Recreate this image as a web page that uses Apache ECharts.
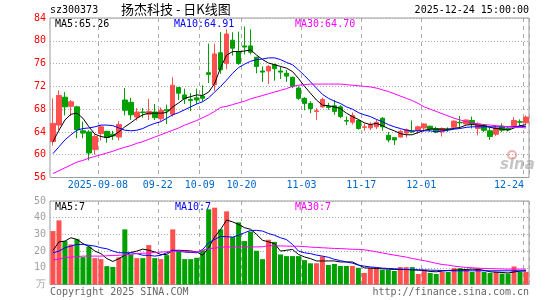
<!DOCTYPE html>
<html>
<head>
<meta charset="utf-8">
<script src="https://cdn.jsdelivr.net/npm/echarts/dist/echarts.min.js"></script>
<style>
html,body{margin:0;padding:0;background:#fff;}
#chart{width:545px;height:300px;}
</style>
</head>
<body>
<div id="chart"></div>
<script>
// ---------- data ----------
const categories = [
'2025-08-27','2025-08-28','2025-08-29','2025-09-01','2025-09-02','2025-09-03','2025-09-04','2025-09-05',
'2025-09-08','2025-09-09','2025-09-10','2025-09-11','2025-09-12','2025-09-15','2025-09-16','2025-09-17',
'2025-09-18','2025-09-19','2025-09-22','2025-09-23','2025-09-24','2025-09-25','2025-09-26','2025-09-29',
'2025-09-30','2025-10-09','2025-10-10','2025-10-13','2025-10-14','2025-10-15','2025-10-16','2025-10-17',
'2025-10-20','2025-10-21','2025-10-22','2025-10-23','2025-10-24','2025-10-27','2025-10-28','2025-10-29',
'2025-10-30','2025-10-31','2025-11-03','2025-11-04','2025-11-05','2025-11-06','2025-11-07','2025-11-10',
'2025-11-11','2025-11-12','2025-11-13','2025-11-14','2025-11-17','2025-11-18','2025-11-19','2025-11-20',
'2025-11-21','2025-11-24','2025-11-25','2025-11-26','2025-11-27','2025-11-28','2025-12-01','2025-12-02',
'2025-12-03','2025-12-04','2025-12-05','2025-12-08','2025-12-09','2025-12-10','2025-12-11','2025-12-12',
'2025-12-15','2025-12-16','2025-12-17','2025-12-18','2025-12-19','2025-12-22','2025-12-23','2025-12-24'];

const labelIndex = [8, 18, 25, 32, 42, 52, 62, 79];

const openP = [62.3,65.2,70.1,68.5,68.4,64.2,64.0,60.9,63.7,64.1,63.6,63.1,69.6,69.2,66.6,67.5,67.1,67.5,66.3,67.9,
67.1,71.8,70.5,69.7,70.0,70.3,74.4,72.3,77.9,76.0,80.1,78.1,79.1,79.1,77.1,74.7,74.7,75.8,74.7,74.3,
73.6,71.7,69.9,69.0,67.6,68.4,68.5,68.6,68.4,66.0,65.7,66.0,64.8,64.7,64.9,66.4,63.4,63.0,63.1,63.8,
64.1,64.3,64.7,65.0,64.6,64.0,64.5,64.8,65.7,65.4,66.0,64.6,65.2,64.2,63.6,65.0,64.6,65.0,65.8,65.6];
const closeP = [65.5,70.4,68.4,69.3,64.4,63.8,60.3,63.2,64.9,63.0,63.3,65.3,67.8,67.0,67.5,67.4,67.6,66.5,67.8,67.7,
72.2,70.8,69.8,69.5,69.6,69.9,74.1,77.7,74.9,81.2,78.7,76.0,78.9,78.0,75.5,74.5,75.5,75.1,74.5,73.8,
72.0,69.9,69.0,68.1,67.7,69.7,68.3,67.6,66.7,65.9,66.9,64.6,64.9,65.3,65.7,64.9,62.6,62.6,64.1,64.4,
64.0,64.9,65.4,64.5,64.0,64.6,64.4,65.9,65.6,66.1,65.4,65.4,64.3,63.2,64.7,64.3,64.4,66.0,65.7,66.6];
const lowP = [61.6,64.3,66.9,66.8,62.9,62.9,59.0,60.0,62.5,62.1,62.6,62.5,66.9,66.1,66.0,66.5,66.1,66.1,65.9,65.4,
66.7,69.6,68.9,67.7,68.9,69.3,72.6,71.2,74.2,75.0,77.4,75.8,77.6,77.6,74.3,72.8,72.4,73.0,73.3,72.8,
71.7,69.6,67.8,67.3,66.1,68.2,67.9,67.0,66.4,65.2,65.3,64.4,64.2,64.3,64.5,64.2,62.2,61.7,63.0,63.0,
63.8,63.7,64.0,64.0,63.8,63.2,64.0,64.6,64.9,65.3,64.6,63.4,64.0,62.6,63.3,64.0,64.1,64.8,65.1,65.3];
const highP = [69.9,71.3,71.0,69.6,68.6,65.8,64.3,63.6,65.2,64.2,64.2,65.9,71.7,70.0,68.2,68.2,69.8,68.9,68.3,68.8,
73.6,71.9,71.6,70.8,71.6,72.2,79.5,79.5,81.5,82.0,81.5,81.6,82.5,82.0,77.2,75.5,75.7,76.0,75.5,74.9,
73.7,72.0,70.1,69.4,68.2,70.0,69.1,69.6,68.7,66.7,67.4,66.2,65.5,65.7,66.2,66.6,64.0,63.0,64.4,64.6,
66.0,65.1,65.5,65.1,64.9,64.8,64.8,66.0,66.8,66.2,66.7,65.7,65.4,64.8,65.1,65.5,65.0,66.6,66.2,66.9];

const ma5 = [62.3,64.3,66.1,67.1,67.3,66.4,64.9,63.6,63.2,63.0,63.3,64.0,64.9,65.6,66.4,67.0,67.3,67.3,67.3,67.4,
68.4,69.1,69.9,70.2,70.5,70.4,71.0,72.5,75.3,77.5,78.1,78.1,78.2,78.4,77.5,76.7,76.1,75.8,75.5,75.2,
74.6,73.4,72.0,70.8,69.6,68.7,68.6,68.4,68.1,67.3,66.7,66.2,65.6,65.3,65.5,65.1,64.6,64.2,63.7,63.5,
63.5,63.9,64.3,64.5,64.5,64.5,64.5,64.6,64.8,65.2,65.3,65.2,65.1,64.8,64.6,64.5,64.3,64.7,65.1,65.26];
const ma10 = [60.2,61.4,62.6,63.5,64.3,64.6,64.7,64.9,65.2,65.2,65.1,64.7,64.3,64.2,64.3,64.6,65.1,65.5,65.8,66.4,
67.0,67.4,67.9,68.4,68.9,69.3,70.0,71.0,72.0,73.1,74.3,75.3,75.9,76.4,76.7,76.8,77.0,77.0,76.7,76.2,
75.8,74.9,73.9,72.8,71.7,70.6,69.9,69.4,69.0,68.4,68.0,67.4,67.0,66.7,66.2,65.8,65.3,64.9,64.6,64.3,
64.2,64.2,64.2,64.2,64.0,64.2,64.3,64.5,64.6,64.8,64.9,64.9,64.9,64.9,64.9,64.9,64.9,64.9,65.0,64.91];
const ma30 = [56.7,57.2,57.7,58.2,58.7,59.0,59.4,59.7,60.0,60.3,60.6,61.0,61.3,61.6,62.0,62.3,62.7,63.1,63.5,63.9,
64.3,64.7,65.2,65.6,66.0,66.5,67.0,67.6,68.3,68.5,68.8,69.1,69.4,69.8,70.1,70.4,70.7,71.0,71.3,71.6,
72.0,72.2,72.3,72.4,72.4,72.4,72.4,72.4,72.4,72.3,72.2,72.1,72.0,71.9,71.7,71.4,71.1,70.7,70.3,69.9,
69.5,69.0,68.4,68.0,67.6,67.2,66.8,66.4,66.1,65.8,65.6,65.4,65.3,65.2,65.1,65.0,64.9,64.8,64.8,64.7];

const volume = [32.0,38.4,26.0,24.0,27.2,16.4,22.7,15.8,15.2,11.0,10.5,16.2,33.0,18.0,15.8,15.8,23.6,15.8,15.2,17.6,
33.0,20.0,15.2,15.2,16.0,20.5,45.0,46.0,33.0,43.8,28.4,37.2,26.0,31.7,20.2,15.2,26.8,25.5,18.0,17.0,
17.0,17.0,14.6,12.7,12.7,16.8,11.7,12.3,11.1,11.1,11.1,10.0,6.9,10.0,10.0,8.8,8.8,8.1,10.4,10.4,
10.4,6.3,8.8,6.9,6.3,7.5,7.5,9.8,9.8,8.8,7.5,9.8,7.5,6.9,7.6,6.5,6.5,10.8,7.5,7.6];
const volMa5 = [20.4,25.5,26.0,28.0,27.0,24.5,22.8,20.0,18.5,15.5,13.8,15.5,17.5,19.2,20.0,21.2,20.5,19.5,18.0,18.0,
20.4,20.5,20.3,20.1,19.5,17.5,22.0,28.5,33.0,38.6,37.5,36.0,34.0,33.1,30.0,26.5,25.5,24.5,20.0,20.5,
21.0,18.0,16.5,15.5,14.1,14.1,14.1,14.1,13.5,13.5,13.5,11.8,10.0,9.8,9.6,9.4,9.2,9.0,9.0,9.0,
8.8,8.6,8.4,7.8,7.6,8.0,8.4,8.6,8.8,9.0,9.2,9.0,8.5,7.6,7.4,7.2,6.9,7.5,8.0,8.2];
const volMa10 = [19.0,20.0,22.0,23.0,24.0,24.0,23.5,23.0,22.0,21.4,20.0,19.0,19.0,19.0,18.5,17.5,17.5,17.0,17.5,19.0,
20.6,20.0,19.4,19.2,19.0,21.0,25.0,27.0,28.8,28.6,28.4,29.5,31.0,32.4,32.4,32.0,30.5,29.5,28.0,26.9,
24.0,20.0,19.0,18.5,17.6,17.0,16.3,15.1,14.3,13.5,12.8,11.6,11.0,10.5,10.2,9.8,9.6,9.4,9.2,9.0,
8.9,8.8,8.7,8.6,8.5,8.4,8.3,8.2,8.2,8.2,8.2,8.2,8.2,8.2,8.2,8.2,8.2,8.2,8.2,8.2];
const volMa30 = [14.7,15.2,16.1,16.4,16.7,17.0,17.0,17.0,17.0,17.2,17.4,17.5,17.8,18.1,18.5,18.7,18.9,19.2,19.4,19.6,
19.8,20.0,19.8,19.6,19.4,20.5,21.4,21.8,22.2,22.5,22.5,22.5,22.5,22.5,22.5,22.6,23.3,23.2,23.1,23.0,
22.9,22.9,22.7,22.4,22.2,22.0,21.8,21.6,21.5,21.3,21.1,21.0,20.8,20.2,19.6,18.9,18.2,17.6,17.0,16.4,
15.6,14.9,14.3,13.5,12.7,12.0,11.6,11.0,10.6,10.2,10.0,9.8,9.6,9.5,9.4,9.3,9.2,9.2,9.2,9.2];

// ---------- chart ----------
const UP = '#ff5050', DOWN = '#00a000';
const MONO = '"DejaVu Sans Mono", "Liberation Mono", monospace';
const ohlc = categories.map((_, i) => [openP[i], closeP[i], lowP[i], highP[i]]);
const showIdx = (i) => labelIndex.indexOf(i) >= 0;
const G_LEFT = 50, G_RIGHT = 16;

const chart = echarts.init(document.getElementById('chart'), null, {renderer: 'canvas'});
const dashed = {show: true, interval: showIdx, lineStyle: {color: '#aaaaaa', type: [4, 4], width: 1}};
const dotted = {show: true, lineStyle: {color: '#aaaaaa', type: [1, 2], width: 1}};
const lineS = (name, data, color, xi, yi) => ({
  name, type: 'line', data, xAxisIndex: xi, yAxisIndex: yi, symbol: 'none', smooth: false,
  lineStyle: {color, width: 1}, silent: true, z: 5
});

chart.setOption({
  animation: false,
  backgroundColor: '#ffffff',
  grid: [
    {left: G_LEFT, right: G_RIGHT, top: 18, height: 159.5, show: true, borderColor: '#999999', borderWidth: 1, backgroundColor: 'transparent'},
    {left: G_LEFT, right: G_RIGHT, top: 201, height: 83.5, show: true, borderColor: '#999999', borderWidth: 1, backgroundColor: 'transparent'}
  ],
  xAxis: [
    {type: 'category', gridIndex: 0, data: categories, boundaryGap: true,
     axisLine: {show: false}, axisTick: {show: false},
     axisLabel: {show: true, interval: showIdx, margin: 3, color: '#0066cc', fontFamily: MONO, fontSize: 10,
       padding: [0, 6, 0, 0],
       formatter: (v, i) => i === labelIndex[0] ? v : (i === labelIndex[labelIndex.length - 1] ? '{r|' + v.slice(5) + '}' : v.slice(5)),
       rich: {r: {color: '#0066cc', fontFamily: MONO, fontSize: 10, padding: [0, 28, 0, 0]}}},
     splitLine: dashed},
    {type: 'category', gridIndex: 1, data: categories, boundaryGap: true,
     axisLine: {show: false}, axisTick: {show: false}, axisLabel: {show: false},
     splitLine: dashed}
  ],
  yAxis: [
    {type: 'value', gridIndex: 0, min: 56, max: 84, interval: 4, position: 'left',
     axisLine: {show: false}, axisTick: {show: false},
     axisLabel: {color: '#ff0000', fontFamily: MONO, fontSize: 10, margin: 4},
     splitLine: dotted},
    {type: 'value', gridIndex: 1, min: 0, max: 50, interval: 10, position: 'left',
     axisLine: {show: false}, axisTick: {show: false},
     axisLabel: {color: '#a0a0a0', fontFamily: MONO, fontSize: 10, margin: 4,
       formatter: (v) => v === 0 ? '万' : String(v)},
     splitLine: dotted}
  ],
  series: [
    {name: 'K', type: 'candlestick', xAxisIndex: 0, yAxisIndex: 0, data: ohlc, barWidth: 5,
     itemStyle: {color: UP, color0: DOWN, borderColor: UP, borderColor0: DOWN, borderWidth: 1}, z: 3},
    lineS('MA5', ma5, '#000000', 0, 0),
    lineS('MA10', ma10, '#0000ff', 0, 0),
    lineS('MA30', ma30, '#ff00ff', 0, 0),
    {name: 'VOL', type: 'bar', xAxisIndex: 1, yAxisIndex: 1, data: volume, barWidth: 5,
     itemStyle: {color: (p) => closeP[p.dataIndex] >= openP[p.dataIndex] ? UP : DOWN}, z: 3},
    lineS('VMA5', volMa5, '#000000', 1, 1),
    lineS('VMA10', volMa10, '#0000ff', 1, 1),
    lineS('VMA30', volMa30, '#ff00ff', 1, 1)
  ],
  graphic: [
    {type: 'text', left: 50, top: 5, style: {text: 'sz300373', fill: '#000', font: '10px ' + MONO}},
    {type: 'text', left: 121, top: 3, style: {text: '扬杰科技 - 日K线图', fill: '#000', font: '13px "Noto Sans CJK SC"'}},
    {type: 'text', right: 16, top: 5, style: {text: '2025-12-24 15:00:00', fill: '#000', font: '10px ' + MONO}},
    {type: 'text', left: 55, top: 19, style: {text: 'MA5:65.26', fill: '#000000', font: '10px ' + MONO}},
    {type: 'text', left: 174, top: 19, style: {text: 'MA10:64.91', fill: '#0000ff', font: '10px ' + MONO}},
    {type: 'text', left: 295, top: 19, style: {text: 'MA30:64.70', fill: '#ff00ff', font: '10px ' + MONO}},
    {type: 'text', left: 55, top: 202, style: {text: 'MA5:7', fill: '#000000', font: '10px ' + MONO}},
    {type: 'text', left: 175, top: 202, style: {text: 'MA10:7', fill: '#0000ff', font: '10px ' + MONO}},
    {type: 'text', left: 295, top: 202, style: {text: 'MA30:7', fill: '#ff00ff', font: '10px ' + MONO}},
    {type: 'text', left: 50, top: 287, style: {text: 'Copyright 2025 SINA.COM', fill: '#666666', font: '10px ' + MONO}},
    {type: 'text', right: 16, top: 287, style: {text: 'http://finance.sina.com.cn', fill: '#666666', font: '10px ' + MONO}},
    {type: 'circle', shape: {cx: 512, cy: 155, r: 4}, style: {fill: 'none', stroke: 'rgba(230,110,110,0.55)', lineWidth: 2}, z: 1},
    {type: 'text', left: 500, top: 158, style: {text: 'sina', fill: 'rgba(150,150,150,0.55)', font: 'italic bold 15px "DejaVu Sans"'}, z: 1}
  ]
});
</script>
</body>
</html>
